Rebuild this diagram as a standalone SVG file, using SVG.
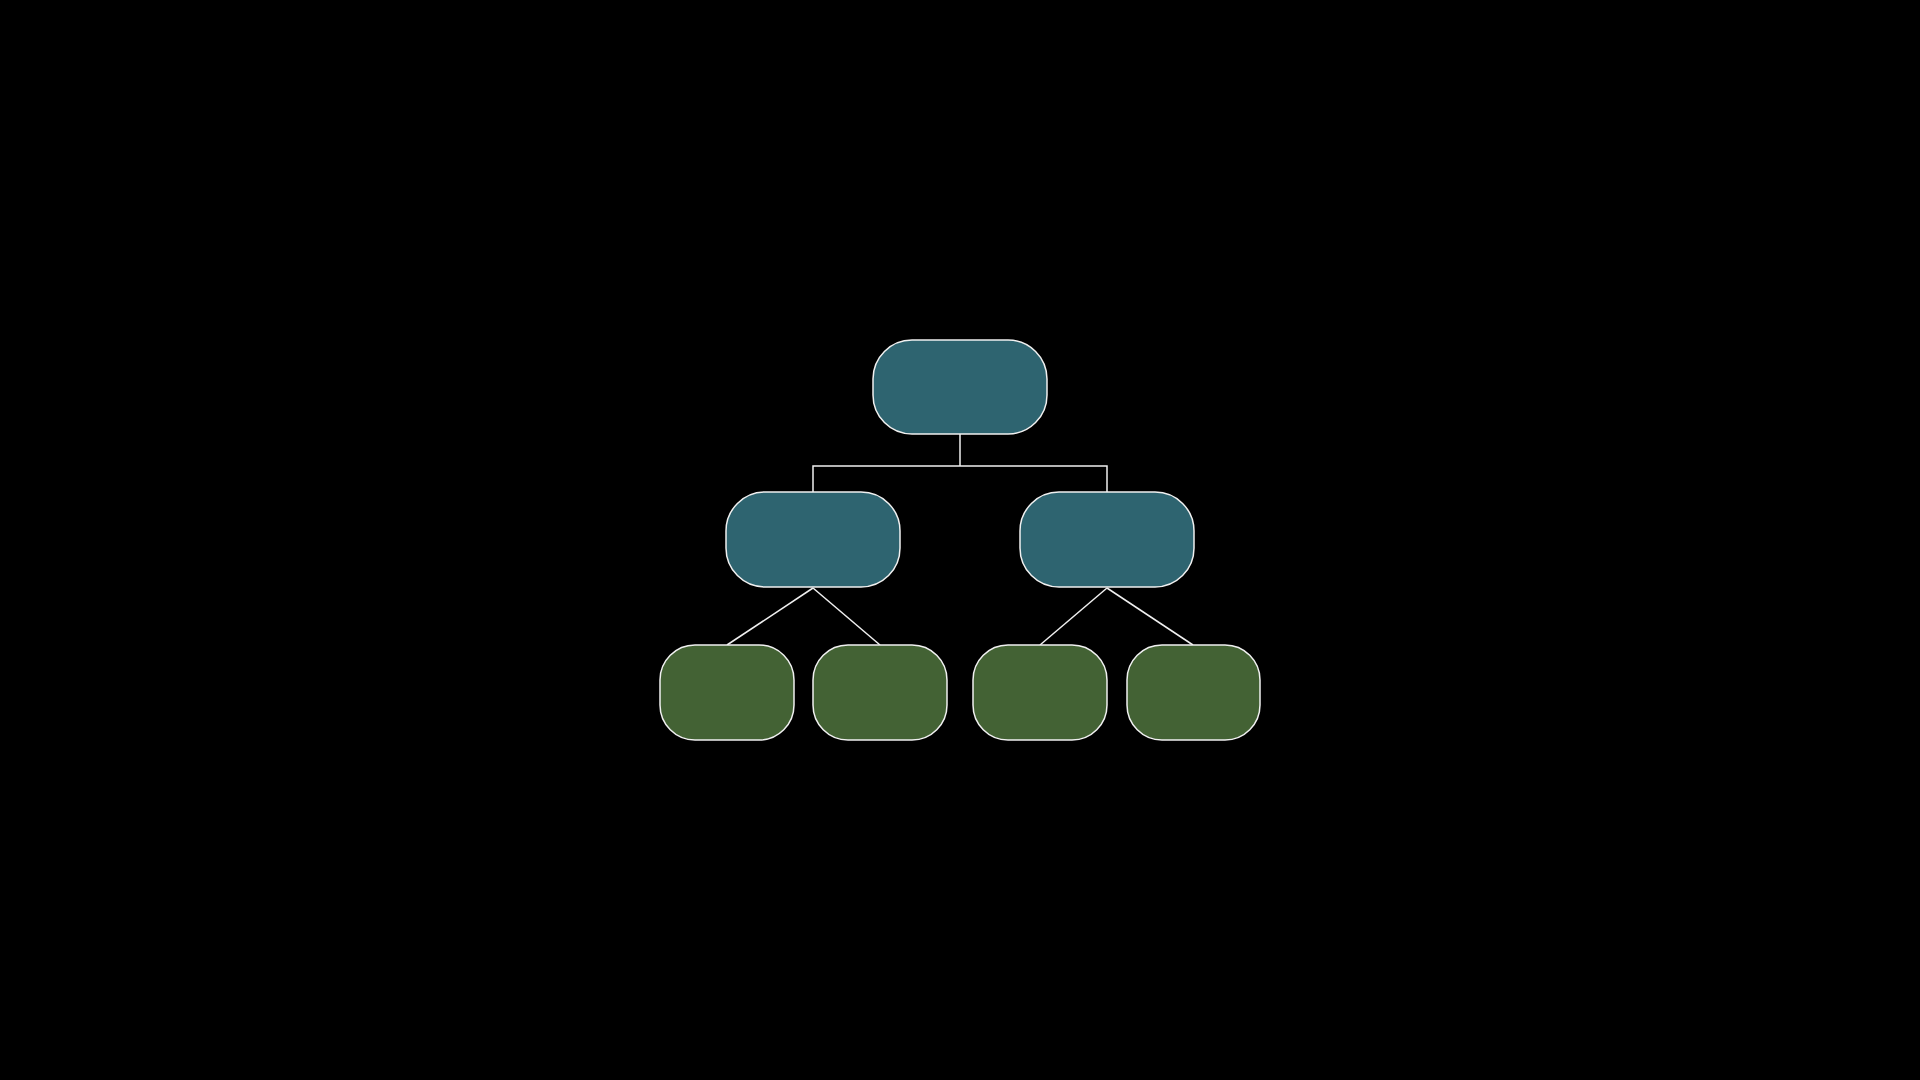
<svg xmlns="http://www.w3.org/2000/svg" width="1920" height="1080" viewBox="0 0 1920 1080">
<style>
.bg{fill:#000000}
.teal{fill:#2E6470;stroke:#F0F0F0;stroke-width:1.5}
.green{fill:#436234;stroke:#F0F0F0;stroke-width:1.5}
.edge{fill:none;stroke:#F0F0F0;stroke-width:1.5}
</style>
<rect class="bg" x="0" y="0" width="1920" height="1080"/>
<g id="connectors">
<polyline class="edge" points="960,434 960,466"/>
<polyline class="edge" points="813,492 813,466 1107,466 1107,492"/>
<line class="edge" x1="813" y1="588" x2="727" y2="645"/>
<line class="edge" x1="813" y1="588" x2="880" y2="645"/>
<line class="edge" x1="1107" y1="588" x2="1040" y2="645"/>
<line class="edge" x1="1107" y1="588" x2="1193" y2="645"/>
</g>
<g id="root"><rect class="teal" x="873" y="340" width="174" height="94" rx="39" ry="39"/></g>
<g id="mid-left"><rect class="teal" x="726" y="492" width="174" height="95" rx="39" ry="39"/></g>
<g id="mid-right"><rect class="teal" x="1020" y="492" width="174" height="95" rx="39" ry="39"/></g>
<g id="leaf-1"><rect class="green" x="660" y="645" width="134" height="95" rx="35" ry="35"/></g>
<g id="leaf-2"><rect class="green" x="813" y="645" width="134" height="95" rx="35" ry="35"/></g>
<g id="leaf-3"><rect class="green" x="973" y="645" width="134" height="95" rx="35" ry="35"/></g>
<g id="leaf-4"><rect class="green" x="1127" y="645" width="133" height="95" rx="35" ry="35"/></g>
</svg>
